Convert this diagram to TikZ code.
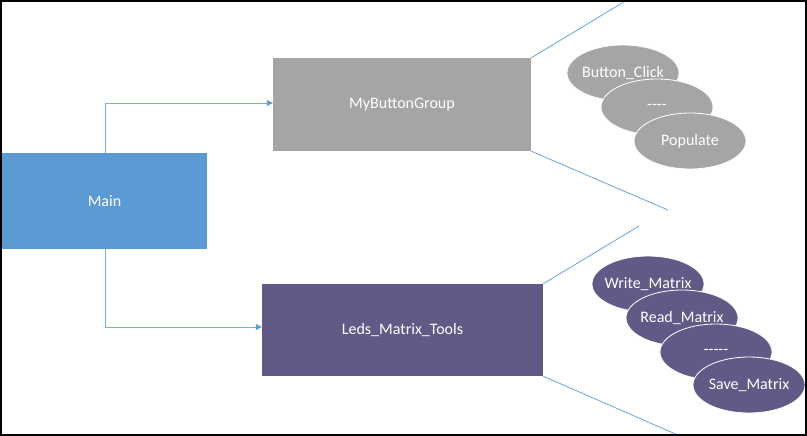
\documentclass[tikz,border=0pt]{standalone}
\usepackage{fontspec}
\setmainfont{Carlito}
\usetikzlibrary{arrows.meta,shapes.geometric}
\definecolor{mainblue}{HTML}{5B9BD5}
\definecolor{linkblue}{HTML}{7AAEDD}
\definecolor{grayfill}{HTML}{A5A5A5}
\definecolor{purplefill}{HTML}{635987}
\newcommand\ovaltxt[1]{\makebox[0pt]{#1}}
\tikzset{
  box/.style={draw=none, inner sep=0pt, text=white, font=\fontsize{16}{18}\selectfont},
  oval/.style={ellipse, draw=white, line width=0.8pt, inner sep=0pt, text=white,
    minimum width=112pt, minimum height=56pt, font=\fontsize{16}{18}\selectfont},
  conn/.style={draw=linkblue, line width=0.9pt, -{Triangle[length=6pt,width=6pt,color=mainblue]}},
  fan/.style={draw=mainblue, line width=0.7pt}
}
\begin{document}
\begin{tikzpicture}[x=1pt,y=-1pt]
\useasboundingbox (0,0) rectangle (807,436);
\fill[white] (0,0) rectangle (807,436);
% boxes
\node[box, fill=mainblue, minimum width=205pt, minimum height=96pt] (main) at (104.5,201) {Main};
\node[box, fill=grayfill, minimum width=258pt, minimum height=93pt] (mbg) at (402,104.5) {MyButtonGroup};
\node[box, fill=purplefill, minimum width=281pt, minimum height=92pt] (leds) at (402.5,330) {Leds\_Matrix\_Tools};
% connectors
\coordinate (m1) at (105,103);
\coordinate (m2) at (105,327);
\draw[conn] (main.north -| m1) -- (m1) -- (m1 -| mbg.west);
\draw[conn] (main.south -| m2) -- (m2) -- (m2 -| leds.west);
% fan lines
\coordinate (f1) at (627,0);
\coordinate (f2) at (668,210);
\coordinate (f3) at (639,226);
\coordinate (f4) at (680,436);
\draw[fan] (mbg.north east) -- (f1);
\draw[fan] (mbg.south east) -- (f2);
\draw[fan] (leds.north east) -- (f3);
\draw[fan] (leds.south east) -- (f4);
% ellipses group 1
\node[oval, fill=grayfill] (bc) at (623,73) {\ovaltxt{Button\_Click}};
\node[oval, fill=grayfill] (d1) at (657,107) {\ovaltxt{-{}-{}-{}-}};
\node[oval, fill=grayfill] (pop) at (690,141) {\ovaltxt{Populate}};
% ellipses group 2
\node[oval, fill=purplefill] (wm) at (648,284) {\ovaltxt{Write\_Matrix}};
\node[oval, fill=purplefill] (rm) at (682,318) {\ovaltxt{Read\_Matrix}};
\node[oval, fill=purplefill] (d2) at (716,352) {\ovaltxt{-{}-{}-{}-{}-}};
\node[oval, fill=purplefill] (sm) at (749,385) {\ovaltxt{Save\_Matrix}};
% frame
\draw[black, line width=2pt] (1,1) rectangle (806,435);
\end{tikzpicture}
\end{document}
